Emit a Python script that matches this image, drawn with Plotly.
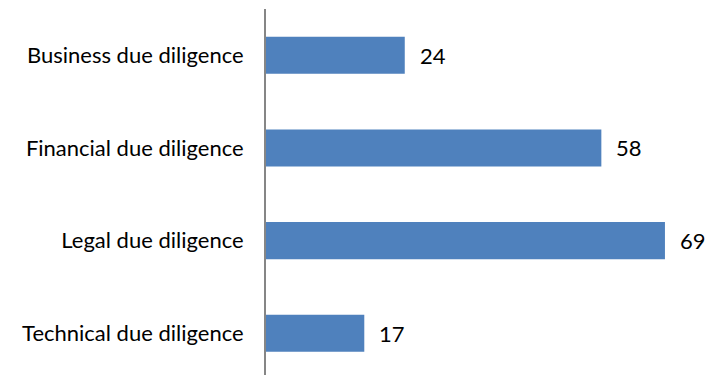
import plotly.graph_objects as go

categories = ["Business due diligence", "Financial due diligence",
              "Legal due diligence", "Technical due diligence"]
values = [24, 58, 69, 17]

BAR_COLOR = "#4F81BD"
FONT = "Lato"
FONT_SIZE = 22

fig = go.Figure(
    go.Bar(
        x=values,
        y=categories,
        orientation="h",
        width=0.4,
        marker=dict(color=BAR_COLOR, line=dict(width=0)),
        hoverinfo="skip",
    )
)

# value labels just past the end of each bar
for cat, val in zip(categories, values):
    fig.add_annotation(
        x=val, y=cat, text=str(val), showarrow=False,
        xanchor="left", yanchor="middle", xshift=13,
        font=dict(family=FONT, size=FONT_SIZE, color="#000000"),
    )

fig.update_layout(
    width=706, height=375,
    margin=dict(l=266, r=0, t=9, b=0),
    paper_bgcolor="white", plot_bgcolor="white",
    showlegend=False,
    font=dict(family=FONT, size=FONT_SIZE, color="#000000"),
)
fig.update_xaxes(range=[0, 76.1], visible=False, showgrid=False, zeroline=False)
fig.update_yaxes(
    categoryorder="array", categoryarray=categories,
    range=[3.45, -0.5],
    showline=True, linecolor="#868686", linewidth=2,
    showgrid=False, zeroline=False, ticks="",
    ticklabelstandoff=16,
    tickfont=dict(family=FONT, size=FONT_SIZE, color="#000000"),
)

fig.write_html("out.html")
